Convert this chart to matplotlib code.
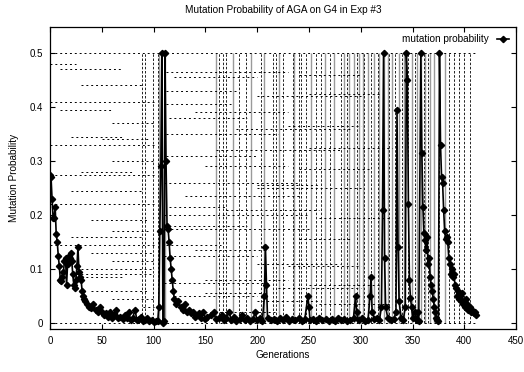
import numpy as np
import matplotlib
matplotlib.use("Agg")
import matplotlib.pyplot as plt

plt.rcParams['font.family'] = ['Liberation Sans', 'DejaVu Sans']

# main series: generation / mutation probability
gens = [0, 1, 2, 3, 4, 5, 6, 7, 8, 9, 10, 11, 12, 13, 14, 15, 16, 17, 18, 19,
        20, 21, 22, 23, 24, 25, 26, 27, 28, 29, 30, 31, 32, 33, 34, 36, 38, 40, 42, 44,
        46, 48, 50, 52, 54, 56, 58, 60, 62, 64, 66, 68, 70, 72, 74, 76, 78, 80, 82, 84,
        86, 88, 90, 92, 94, 96, 98, 100, 102, 104, 105, 106, 107, 108, 109, 110, 111, 112, 113, 114,
        115, 116, 117, 118, 119, 120, 122, 124, 126, 128, 130, 132, 134, 136, 138, 140, 142, 144, 146, 148,
        150, 152, 155, 158, 160, 163, 166, 168, 170, 173, 175, 178, 180, 183, 185, 188, 190, 193, 196, 198,
        200, 203, 205, 207, 208, 209, 210, 213, 216, 219, 222, 225, 228, 231, 234, 237, 240, 243, 246, 249,
        250, 251, 254, 257, 260, 263, 266, 269, 272, 275, 278, 281, 284, 287, 290, 293, 295, 296, 298, 301,
        304, 307, 309, 310, 311, 313, 316, 318, 320, 321, 322, 323, 324, 326, 329, 332, 334, 335, 336, 337,
        339, 341, 343, 344, 345, 346, 347, 348, 349, 350, 352, 354, 355, 356, 358, 359, 360, 361, 362, 363,
        364, 365, 366, 367, 368, 369, 370, 371, 372, 373, 374, 375, 376, 377, 378, 379, 380, 381, 382, 383,
        384, 385, 386, 387, 388, 389, 390, 391, 392, 393, 394, 395, 396, 397, 398, 399, 400, 401, 402, 403,
        404, 405, 406, 407, 408, 409, 410, 411]
probs = [0.275, 0.27, 0.23, 0.195, 0.195, 0.215, 0.165, 0.15, 0.125, 0.105, 0.08, 0.078, 0.085, 0.095, 0.115, 0.12, 0.07, 0.11, 0.125, 0.12,
         0.13, 0.115, 0.09, 0.07, 0.065, 0.08, 0.105, 0.14, 0.095, 0.085, 0.08, 0.06, 0.05, 0.045, 0.04, 0.035, 0.03, 0.028, 0.035, 0.025,
         0.02, 0.03, 0.02, 0.015, 0.018, 0.012, 0.02, 0.01, 0.015, 0.025, 0.01, 0.012, 0.008, 0.015, 0.01, 0.02, 0.006, 0.01, 0.025, 0.005,
         0.008, 0.012, 0.004, 0.006, 0.01, 0.003, 0.005, 0.002, 0.004, 0.003, 0.03, 0.17, 0.29, 0.5, 0.0, 0.003, 0.5, 0.3, 0.18, 0.175,
         0.15, 0.12, 0.1, 0.08, 0.06, 0.045, 0.035, 0.04, 0.03, 0.025, 0.035, 0.02, 0.025, 0.018, 0.02, 0.012, 0.015, 0.018, 0.01, 0.02,
         0.008, 0.012, 0.015, 0.02, 0.008, 0.01, 0.015, 0.005, 0.01, 0.02, 0.006, 0.012, 0.004, 0.008, 0.015, 0.005, 0.01, 0.003, 0.008, 0.02,
         0.005, 0.01, 0.004, 0.05, 0.14, 0.07, 0.01, 0.005, 0.008, 0.003, 0.01, 0.005, 0.012, 0.004, 0.008, 0.005, 0.01, 0.003, 0.008, 0.05,
         0.03, 0.005, 0.008, 0.004, 0.01, 0.005, 0.008, 0.003, 0.007, 0.004, 0.01, 0.005, 0.008, 0.003, 0.006, 0.01, 0.05, 0.02, 0.005, 0.01,
         0.004, 0.006, 0.05, 0.085, 0.02, 0.008, 0.01, 0.005, 0.03, 0.21, 0.5, 0.12, 0.03, 0.01, 0.005, 0.008, 0.02, 0.395, 0.14, 0.04,
         0.01, 0.005, 0.03, 0.5, 0.45, 0.22, 0.08, 0.046, 0.03, 0.01, 0.02, 0.005, 0.02, 0.003, 0.5, 0.315, 0.215, 0.166, 0.154, 0.135,
         0.16, 0.11, 0.12, 0.085, 0.07, 0.06, 0.045, 0.03, 0.02, 0.01, 0.005, 0.003, 0.5, 0.33, 0.27, 0.26, 0.21, 0.17, 0.155, 0.16,
         0.15, 0.12, 0.11, 0.09, 0.1, 0.085, 0.09, 0.07, 0.065, 0.05, 0.06, 0.045, 0.05, 0.04, 0.055, 0.035, 0.04, 0.03, 0.045, 0.035,
         0.025, 0.03, 0.02, 0.025, 0.02, 0.018, 0.02, 0.015]

# dotted horizontal traces of the population (value, from gen, to gen)
seg_y = [0.5, 0.48, 0.465, 0.455, 0.44, 0.43, 0.41, 0.405, 0.39, 0.37, 0.35, 0.345,
         0.33, 0.31, 0.3, 0.29, 0.275, 0.26, 0.245, 0.235, 0.22, 0.2, 0.19, 0.18,
         0.175, 0.16, 0.145, 0.145, 0.13, 0.125, 0.115, 0.1, 0.09, 0.08, 0.075, 0.06,
         0.05, 0.045, 0.03, 0.02, 0.0, 0.42, 0.36, 0.32, 0.25, 0.21, 0.11, 0.065,
         0.47, 0.395, 0.38, 0.34, 0.28, 0.255, 0.215, 0.17, 0.135, 0.085, 0.055, 0.04,
         0.46, 0.425, 0.365, 0.325, 0.285, 0.195, 0.155, 0.105, 0.07, 0.035]
seg_x0 = [0, 0, 112, 120, 30, 112, 0, 112, 140, 60, 112, 20,
          0, 112, 60, 150, 0, 110, 20, 130, 0, 110, 40, 110,
          112, 20, 0, 112, 40, 110, 60, 30, 25, 150, 110, 40,
          120, 60, 90, 150, 0, 200, 180, 160, 200, 170, 200, 220,
          10, 10, 115, 50, 30, 200, 115, 60, 140, 30, 150, 200,
          240, 250, 230, 250, 240, 260, 240, 230, 250, 260]
seg_x1 = [410, 25, 230, 200, 90, 180, 100, 175, 230, 100, 220, 70,
          100, 200, 100, 230, 100, 240, 90, 240, 100, 250, 95, 190,
          250, 90, 100, 165, 100, 200, 100, 100, 100, 230, 210, 95,
          200, 100, 100, 220, 410, 300, 290, 280, 300, 260, 280, 300,
          70, 60, 190, 95, 80, 260, 170, 95, 210, 70, 210, 260,
          300, 320, 300, 330, 310, 330, 290, 300, 320, 330]

# grey vertical bands and broken black verticals
vgrey_x = [105, 111, 160, 177, 194, 207, 221, 236, 252, 265, 274, 284, 289, 293, 298,
           302, 307, 313, 318, 322, 326, 330, 337, 342, 349, 354, 358, 362, 367, 371, 381]
vdash_x = [89, 92, 99, 104, 163, 167, 170, 182, 189, 204, 215, 218, 225, 235, 240,
           242, 247, 257, 262, 270, 281, 287, 296, 303, 310, 317, 327, 333, 340, 346,
           352, 361, 365, 376, 385, 390, 395, 400, 405]

fig = plt.figure(figsize=(5.24, 3.72), dpi=100)
ax = fig.add_axes([0.0954, 0.1156, 0.8896, 0.8114])

ax.vlines(vgrey_x, 0, 0.5, colors='#9a9a9a', linewidth=1.0, zorder=1)
ax.vlines(vdash_x, 0, 0.5, colors='black', linewidth=0.6, linestyles=(0, (3, 2)), zorder=1)
ax.hlines(seg_y, seg_x0, seg_x1, colors='black', linewidth=0.7, linestyles=(0, (2, 3)), zorder=1)

ax.plot(gens, probs, color='black', linewidth=1.2, marker='D', markersize=3.2,
        label='mutation probability', zorder=3)

ax.set_xlim(0, 450)
ax.set_ylim(-0.011, 0.548)
ax.set_xticks(np.arange(0, 451, 50))
ax.set_yticks([0, 0.1, 0.2, 0.3, 0.4, 0.5])
ax.set_yticklabels(['0', '0.1', '0.2', '0.3', '0.4', '0.5'])
ax.tick_params(direction='in', top=True, right=True, length=3.5, width=0.8,
               labelsize=7, pad=5)
for s in ax.spines.values():
    s.set_linewidth(0.9)

ax.set_title('Mutation Probability of AGA on G4 in Exp #3', fontsize=7.2, pad=10)
ax.set_xlabel('Generations', fontsize=7.2, labelpad=3)
ax.set_ylabel('Mutation Probability', fontsize=7.2, labelpad=8)

ax.legend(loc='upper right', frameon=False, fontsize=7.2, markerfirst=False,
          handlelength=1.2, borderaxespad=0.3)

fig.savefig('out.png', dpi=100)
